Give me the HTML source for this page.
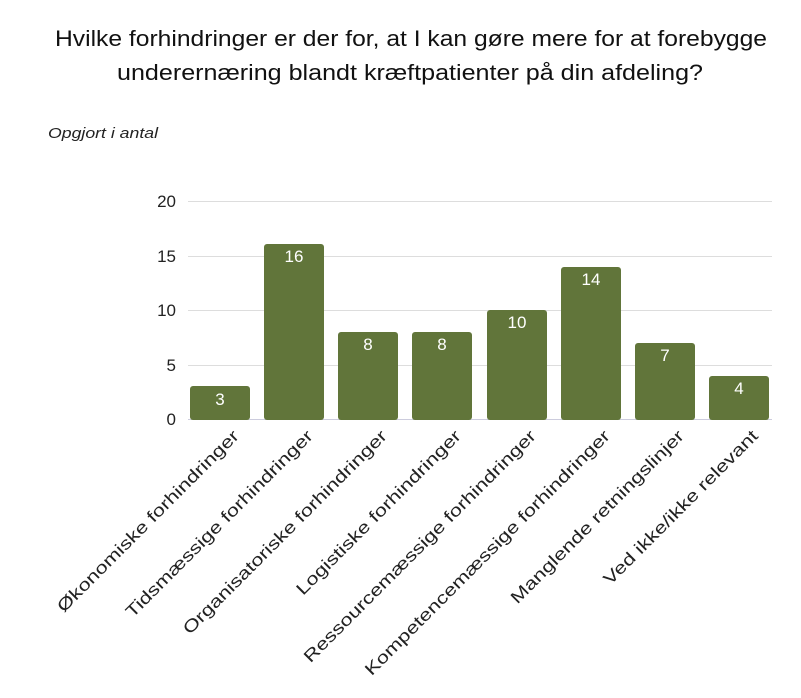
<!DOCTYPE html>
<html><head><meta charset="utf-8"><style>
body{margin:0;background:#fff;}
svg{display:block;font-family:"Liberation Sans",sans-serif;}
</style></head><body>
<svg width="801" height="698" xmlns="http://www.w3.org/2000/svg">
<text x="55" y="46" font-size="22" textLength="712" lengthAdjust="spacingAndGlyphs" fill="#111">Hvilke forhindringer er der for, at I kan gøre mere for at forebygge</text>
<text x="117" y="80" font-size="22" textLength="586" lengthAdjust="spacingAndGlyphs" fill="#111">underernæring blandt kræftpatienter på din afdeling?</text>
<text x="48" y="138" font-size="15" font-style="italic" textLength="110" lengthAdjust="spacingAndGlyphs" fill="#222">Opgjort i antal</text>
<g stroke="#ddd" stroke-width="1">
<line x1="188" y1="201.5" x2="772" y2="201.5"/>
<line x1="188" y1="256.5" x2="772" y2="256.5"/>
<line x1="188" y1="310.5" x2="772" y2="310.5"/>
<line x1="188" y1="365.5" x2="772" y2="365.5"/>
<line x1="188" y1="419.5" x2="772" y2="419.5" stroke="#ccd"/>
</g>
<g font-size="17" fill="#222" text-anchor="end">
<text x="176" y="207">20</text><text x="176" y="262">15</text><text x="176" y="316">10</text><text x="176" y="371">5</text><text x="176" y="425">0</text>
</g>
<g fill="#61753a">
<rect x="190" y="386" width="60" height="34" rx="3"/>
<rect x="264" y="244" width="60" height="176" rx="3"/>
<rect x="338" y="332" width="60" height="88" rx="3"/>
<rect x="412" y="332" width="60" height="88" rx="3"/>
<rect x="487" y="310" width="60" height="110" rx="3"/>
<rect x="561" y="267" width="60" height="153" rx="3"/>
<rect x="635" y="343" width="60" height="77" rx="3"/>
<rect x="709" y="376" width="60" height="44" rx="3"/>
</g>
<g font-size="17" fill="#fff" text-anchor="middle">
<text x="220" y="405">3</text><text x="294" y="262">16</text><text x="368" y="350">8</text><text x="442" y="350">8</text><text x="517" y="328">10</text><text x="591" y="285">14</text><text x="665" y="361">7</text><text x="739" y="394">4</text>
</g>
<g font-size="17" fill="#222" text-anchor="end">
<text transform="translate(240,437) rotate(-45) scale(1.28,1)">Økonomiske forhindringer</text>
<text transform="translate(314,437) rotate(-45) scale(1.28,1)">Tidsmæssige forhindringer</text>
<text transform="translate(388,437) rotate(-45) scale(1.28,1)">Organisatoriske forhindringer</text>
<text transform="translate(462,437) rotate(-45) scale(1.28,1)">Logistiske forhindringer</text>
<text transform="translate(537,437) rotate(-45) scale(1.28,1)">Ressourcemæssige forhindringer</text>
<text transform="translate(611,437) rotate(-45) scale(1.28,1)">Kompetencemæssige forhindringer</text>
<text transform="translate(685,437) rotate(-45) scale(1.28,1)">Manglende retningslinjer</text>
<text transform="translate(759,437) rotate(-45) scale(1.28,1)">Ved ikke/ikke relevant</text>
</g>
</svg>
</body></html>
